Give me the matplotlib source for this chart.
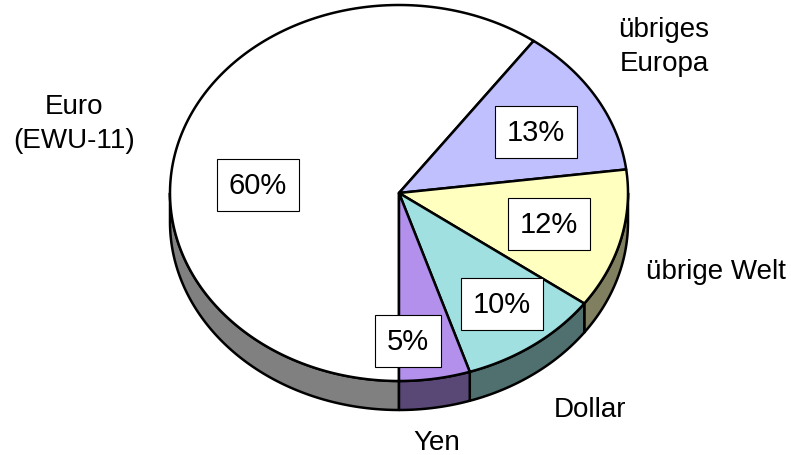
import numpy as np
import matplotlib
matplotlib.use('Agg')
import matplotlib.pyplot as plt
from matplotlib.patches import Polygon

plt.rcParams['font.family'] = ['Liberation Sans', 'DejaVu Sans']

# data (order as in the sheet, drawn clockwise from 6 o'clock)
categories = ['Euro\n(EWU-11)', 'übriges\nEuropa', 'übrige Welt', 'Dollar', 'Yen']
shares = [60, 13, 12, 10, 5]
pct_labels = ['60%', '13%', '12%', '10%', '5%']
top_colors = ['#ffffff', '#c0c0ff', '#ffffc0', '#a0e0e0', '#b290ec']

# layout (pixels)
W, H = 791, 456
cx, cy, rx, ry, depth = 399, 194, 229, 188, 29
pct_pos = [(258, 186), (536, 133), (549, 225), (502, 305), (408, 342)]
cat_pos = [(74, 124), (664, 47), (716, 272), (590, 410), (437, 443)]

fig = plt.figure(figsize=(W / 100, H / 100), dpi=100)
ax = fig.add_axes([0, 0, 1, 1])
ax.set_xlim(0, W)
ax.set_ylim(H, 0)
ax.axis('off')


def rim(t0, t1, n=200):
    t = np.radians(np.linspace(t0, t1, n))
    return cx + rx * np.cos(t), cy - ry * np.sin(t)


bounds = 270 - 360 * np.concatenate([[0], np.cumsum(shares)]) / sum(shares)

# side walls (front half only)
for i in range(len(shares)):
    a, b = bounds[i], bounds[i + 1]
    for lo, hi in [(180, 270), (-90, 0)]:
        s, e = max(b, lo), min(a, hi)
        if e <= s:
            continue
        xs, ys = rim(s, e)
        pts = np.column_stack([np.concatenate([xs, xs[::-1]]),
                               np.concatenate([ys, ys[::-1] + depth])])
        c = np.array(matplotlib.colors.to_rgb(top_colors[i])) * 0.5
        ax.add_patch(Polygon(pts, closed=True, facecolor=c,
                             edgecolor='black', lw=1.8, joinstyle='round'))

# top face
for i in range(len(shares)):
    xs, ys = rim(bounds[i + 1], bounds[i])
    pts = np.column_stack([np.concatenate([[cx], xs]), np.concatenate([[cy], ys])])
    ax.add_patch(Polygon(pts, closed=True, facecolor=top_colors[i],
                         edgecolor='black', lw=1.8, joinstyle='round'))

for (x, y), t in zip(pct_pos, pct_labels):
    ax.text(x, y, t, fontsize=21, ha='center', va='center',
            bbox=dict(boxstyle='square,pad=0.4', fc='white', ec='black', lw=0.8))

for (x, y), t in zip(cat_pos, categories):
    ax.text(x, y, t, fontsize=20, ha='center', va='center', linespacing=1.4)

fig.savefig('out.png', dpi=100)
